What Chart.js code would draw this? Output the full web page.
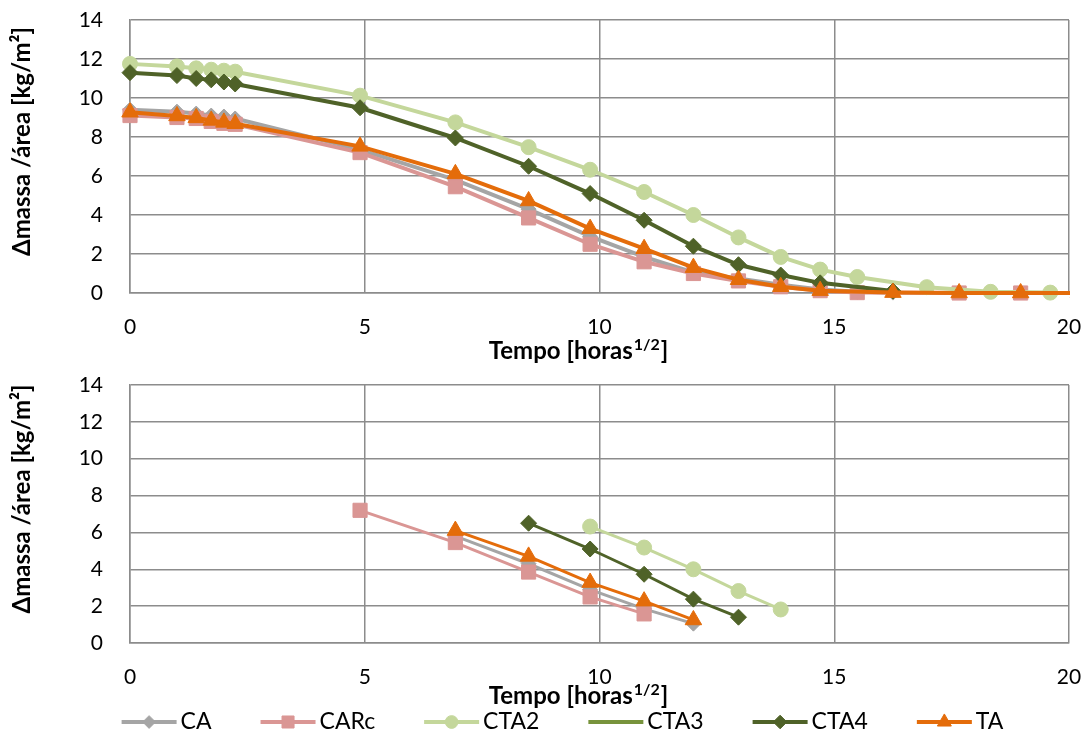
<!DOCTYPE html>
<html>
<head>
<meta charset="utf-8">
<script src="https://cdn.jsdelivr.net/npm/chart.js@4.4.1/dist/chart.umd.min.js"></script>
<style>
  html, body { margin: 0; padding: 0; background: #fff; }
  #wrap { position: relative; width: 1088px; height: 736px; }
  #wrap canvas { position: absolute; left: 0; }
  #topChart { top: 0; }
  #bottomChart { top: 365px; }
</style>
</head>
<body>
<div id="wrap">
  <canvas id="topChart" width="1088" height="365"></canvas>
  <canvas id="bottomChart" width="1088" height="371"></canvas>
</div>
<script>
// tempo em horas^1/2 (raiz das horas de secagem)
const tempo = [0, 1, 1.41, 1.73, 2, 2.24, 4.9, 6.93, 8.49, 9.8, 10.95, 12, 12.96, 13.86, 14.7, 15.49, 16.25, 16.97, 17.66, 18.33, 18.97, 19.6, 20.2];

const seriesNames = ["CA", "CARc", "CTA2", "CTA3", "CTA4", "TA"];
const seriesColors = ["#a5a5a5", "#da9694", "#c4d79b", "#77933c", "#4f6228", "#e46c0a"];
const seriesMarkers = ["rectRot", "rect", "circle", false, "rectRot", "triangle"];
const markerRadius = [7.5, 10, 7.5, 0, 8, 9.5];

// curvas completas de secagem
const caTotal   = [9.4, 9.3, 9.2, 9.1, 9.05, 8.95, 7.35, 5.8, 4.3, 2.9, 1.85, 1.05, 0.75, 0.42, 0.18, 0.06, 0.02];
const carcTotal = [9.1, 9.0, 8.95, 8.8, 8.7, 8.65, 7.2, 5.45, 3.85, 2.5, 1.6, 1.0, 0.62, 0.32, 0.12, 0.02, null, null, 0, null, 0];
const cta2Total = [11.75, 11.62, 11.52, 11.45, 11.4, 11.35, 10.12, 8.75, 7.48, 6.32, 5.18, 4.0, 2.85, 1.85, 1.2, 0.82, null, 0.3, null, 0.06, null, 0.02];
const cta3Total = [];
const cta4Total = [11.3, 11.15, 11.0, 10.93, 10.82, 10.72, 9.5, 7.95, 6.5, 5.1, 3.73, 2.4, 1.45, 0.92, 0.52, null, 0.1];
const taTotal   = [9.27, 9.08, 8.98, 8.85, 8.75, 8.68, 7.52, 6.11, 4.72, 3.3, 2.27, 1.3, 0.68, 0.32, 0.12, null, 0.02, null, 0, null, 0, null, 0];

// troço linear de cada curva
const caLinear   = [null, null, null, null, null, null, null, 5.8, 4.3, 2.9, 1.85, 1.05];
const carcLinear = [null, null, null, null, null, null, 7.2, 5.45, 3.85, 2.5, 1.58];
const cta2Linear = [null, null, null, null, null, null, null, null, null, 6.32, 5.18, 4.0, 2.82, 1.82];
const cta3Linear = [];
const cta4Linear = [null, null, null, null, null, null, null, null, 6.5, 5.1, 3.73, 2.38, 1.4];
const taLinear   = [null, null, null, null, null, null, null, 6.1, 4.7, 3.28, 2.27, 1.25];

const xTicks = [0, 5, 10, 15, 20];
const yTicks = [0, 2, 4, 6, 8, 10, 12, 14];

const FONT = "Lato, 'Open Sans', sans-serif";
const GRID = "#8c8c8c";

function toPoints(values) {
  const pts = [];
  values.forEach((v, i) => {
    if (v !== null && v !== undefined) pts.push({ x: tempo[i], y: v });
  });
  return pts;
}

function buildDatasets(valueLists, lineWidth) {
  return valueLists.map((values, i) => ({
    label: seriesNames[i],
    data: toPoints(values),
    borderColor: seriesColors[i],
    backgroundColor: seriesColors[i],
    borderWidth: lineWidth,
    pointStyle: seriesMarkers[i],
    pointRadius: markerRadius[i],
    pointBorderWidth: 1,
    pointBorderColor: seriesColors[i],
    pointBackgroundColor: seriesColors[i],
    tension: 0,
    order: seriesNames.length - i,
    clip: { left: false, top: false, right: 1, bottom: false },
  }));
}

// títulos dos eixos com expoente desenhado à parte
const axisTitles = {
  id: "axisTitles",
  afterDraw(chart) {
    const ctx = chart.ctx;
    const a = chart.chartArea;
    ctx.save();
    ctx.fillStyle = "#000";
    ctx.font = "bold 24px " + FONT;
    ctx.textBaseline = "middle";
    ctx.textAlign = "center";
    ctx.translate(22, (a.top + a.bottom) / 2 - 15);
    ctx.rotate(-Math.PI / 2);
    ctx.fillText("Δmassa /área [kg/m²]", 0, 0);
    ctx.restore();

    ctx.save();
    ctx.fillStyle = "#000";
    ctx.textBaseline = "alphabetic";
    const main = "Tempo [horas";
    const sup = "1/2";
    const end = "]";
    ctx.font = "bold 24px " + FONT;
    const wMain = ctx.measureText(main).width;
    const wEnd = ctx.measureText(end).width;
    ctx.font = "bold 16px " + FONT;
    const wSup = ctx.measureText(sup).width;
    const total = wMain + wSup + wEnd;
    let x = (a.left + a.right) / 2 - 22 - total / 2;
    const y = a.bottom + chart.options.plugins.axisTitles.offset;
    ctx.font = "bold 24px " + FONT;
    ctx.fillText(main, x, y);
    x += wMain;
    ctx.font = "bold 16px " + FONT;
    ctx.fillText(sup, x + 1, y - 9);
    x += wSup + 2;
    ctx.font = "bold 24px " + FONT;
    ctx.fillText(end, x, y);
    ctx.restore();
  }
};

// legenda com linha e marcador
const lineLegend = {
  id: "lineLegend",
  afterDraw(chart) {
    const opts = chart.options.plugins.lineLegend;
    if (!opts || !opts.show) return;
    const ctx = chart.ctx;
    const a = chart.chartArea;
    const lineLen = 55, textGap = 4, itemGap = 49;
    ctx.save();
    ctx.font = "23px " + FONT;
    const widths = seriesNames.map(n => lineLen + textGap + ctx.measureText(n).width);
    const total = widths.reduce((s, w) => s + w, 0) + itemGap * (widths.length - 1);
    let x = (a.left + a.right) / 2 - 37 - total / 2;
    const y = opts.y;
    seriesNames.forEach((name, i) => {
      ctx.strokeStyle = seriesColors[i];
      ctx.lineWidth = 4;
      ctx.beginPath();
      ctx.moveTo(x, y);
      ctx.lineTo(x + lineLen, y);
      ctx.stroke();
      if (seriesMarkers[i]) {
        ctx.fillStyle = seriesColors[i];
        ctx.strokeStyle = seriesColors[i];
        ctx.lineWidth = 1;
        Chart.helpers.drawPoint(ctx, {
          pointStyle: seriesMarkers[i],
          radius: markerRadius[i] * 0.85,
          rotation: 0,
          borderWidth: 1
        }, x + lineLen / 2, y);
      }
      ctx.fillStyle = "#000";
      ctx.textBaseline = "middle";
      ctx.textAlign = "left";
      ctx.fillText(name, x + lineLen + textGap, y);
      x += widths[i] + itemGap;
    });
    ctx.restore();
  }
};

// fixa as margens dos eixos (sem folga extra para os rótulos)
function noLabelPadding(s) {
  s.paddingTop = 0;
  s.paddingBottom = 0;
  s.paddingLeft = 0;
  s.paddingRight = 0;
}

function buildOptions(axisHeight, titleOffset, legendY) {
  return {
    responsive: false,
    animation: false,
    layout: { padding: { top: 20, right: 19, left: 0, bottom: 0 } },
    plugins: {
      legend: { display: false },
      tooltip: { enabled: false },
      axisTitles: { offset: titleOffset },
      lineLegend: { show: legendY !== null, y: legendY },
    },
    scales: {
      x: {
        type: "linear",
        min: 0,
        max: 20,
        afterBuildTicks(s) { s.ticks = xTicks.map(v => ({ value: v })); },
        afterFit(s) { s.height = axisHeight; noLabelPadding(s); },
        ticks: { color: "#000", font: { size: 21, family: FONT }, padding: 22, maxRotation: 0 },
        grid: { color: GRID, lineWidth: 1.5, drawTicks: false },
        border: { color: GRID, width: 1.5 },
      },
      y: {
        min: 0,
        max: 14,
        afterBuildTicks(s) { s.ticks = yTicks.map(v => ({ value: v })); },
        afterFit(s) { s.width = 130; noLabelPadding(s); },
        ticks: { color: "#000", font: { size: 21, family: FONT }, padding: 27 },
        grid: { color: GRID, lineWidth: 1.5, drawTicks: false },
        border: { color: GRID, width: 1.5 },
      },
    },
  };
}

new Chart("topChart", {
  type: "line",
  data: { datasets: buildDatasets([caTotal, carcTotal, cta2Total, cta3Total, cta4Total, taTotal], 4) },
  options: buildOptions(72, 66, null),
  plugins: [axisTitles, lineLegend],
});

new Chart("bottomChart", {
  type: "line",
  data: { datasets: buildDatasets([caLinear, carcLinear, cta2Linear, cta3Linear, cta4Linear, taLinear], 3) },
  options: buildOptions(93, 61, 357),
  plugins: [axisTitles, lineLegend],
});
</script>
</body>
</html>
